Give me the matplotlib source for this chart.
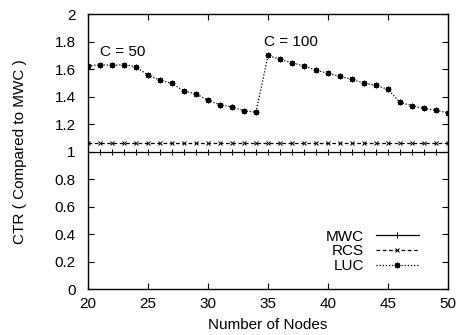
import numpy as np
import matplotlib.pyplot as plt

plt.rcParams['font.family'] = ['Liberation Sans', 'DejaVu Sans']

nodes = list(range(20, 51))
mwc = [1.0] * len(nodes)
rcs = [1.06] * len(nodes)
luc = [1.624, 1.631, 1.629, 1.631, 1.617, 1.554, 1.52, 1.496, 1.44, 1.42,
       1.373, 1.34, 1.325, 1.296, 1.287,
       1.699, 1.670, 1.646, 1.622, 1.593, 1.569, 1.547, 1.525, 1.498, 1.481,
       1.452, 1.358, 1.333, 1.314, 1.300, 1.282]

fig = plt.figure(figsize=(4.62, 3.35), dpi=100)
ax = fig.add_axes([0.1905, 0.137, 0.7792, 0.821])

ax.plot(nodes, mwc, color='black', lw=0.9, marker='+', ms=4, mew=0.7, label='MWC')
ax.plot(nodes, rcs, color='black', lw=0.9, ls=(0, (3, 2)), marker='x', ms=3.5, mew=0.7, label='RCS')
ax.plot(nodes, luc, color='black', lw=0.9, ls=(0, (1, 1.5)), marker=(8, 2, 0), ms=4, mew=0.9, label='LUC')

ax.text(21, 1.725, 'C = 50', fontsize=11, va='center')
ax.text(34.7, 1.8, 'C = 100', fontsize=11, va='center')

ax.set_xlim(20, 50)
ax.set_ylim(0, 2)
ax.set_xticks(range(20, 51, 5))
ax.set_yticks(np.arange(0, 2.01, 0.2))
ax.set_yticklabels(['0', '0.2', '0.4', '0.6', '0.8', '1', '1.2', '1.4', '1.6', '1.8', '2'])
ax.tick_params(direction='in', top=True, right=True, length=4, labelsize=11)
ax.tick_params(axis='x', pad=6)
ax.tick_params(axis='y', pad=9)
for s in ax.spines.values():
    s.set_linewidth(1.0)

ax.set_xlabel('Number of Nodes', fontsize=11)
ax.set_ylabel('CTR ( Compared to MWC )', fontsize=11)
ax.xaxis.set_label_coords(0.5, -0.105)
ax.yaxis.set_label_coords(-0.17, 0.5)

ax.legend(loc='lower right', bbox_to_anchor=(0.957, 0.008), frameon=False, markerfirst=False,
          fontsize=11, handlelength=2.8, labelspacing=0.05, handletextpad=0.8)

fig.savefig('out.png', dpi=100)
